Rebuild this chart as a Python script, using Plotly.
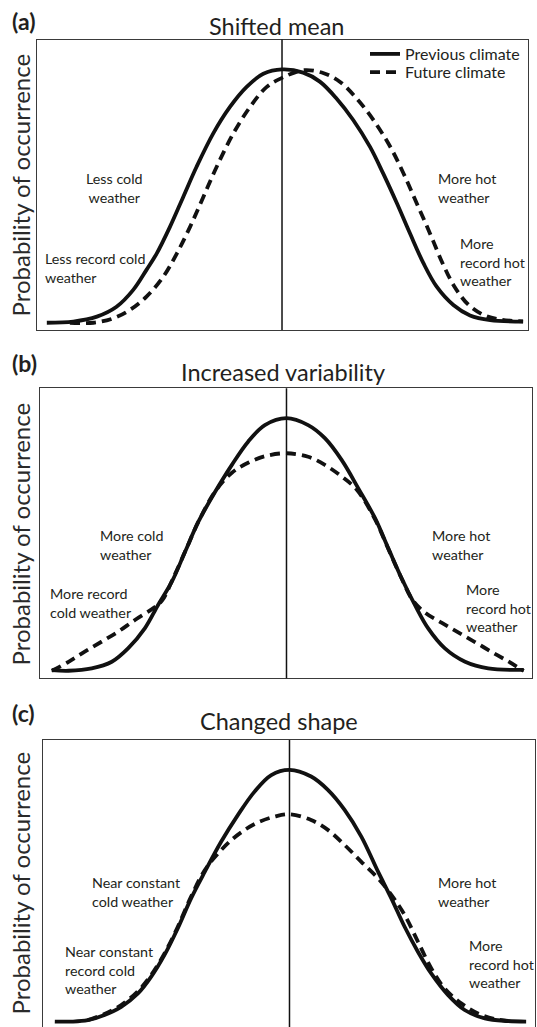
import plotly.graph_objects as go

W, H = 537, 1027

# ---------------- data (x: 0-100 across box, y: 0-100 probability scale) ----------------
A_PREV_X = [2.0, 7.4, 12.2, 16.2, 19.6, 22.3, 24.4, 27.1, 29.8, 32.5, 35.9, 39.3, 42.7, 46.1, 49.9,
            54.2, 57.6, 61.0, 64.4, 67.8, 70.5, 73.3, 76.0, 78.7, 81.4, 84.8, 88.2, 92.3, 99.0]
A_PREV_Y = [2.5, 2.9, 4.6, 8.0, 13.8, 20.7, 26.4, 35.6, 45.9, 56.2, 67.7, 76.8, 83.7, 88.2, 89.7,
            88.6, 85.5, 79.7, 72.3, 63.1, 53.9, 43.6, 33.1, 23.0, 14.9, 8.6, 5.0, 3.4, 2.9]
A_FUT_X = [6.7, 11.5, 15.5, 18.9, 22.3, 25.7, 28.5, 31.2, 33.9, 36.6, 40.0, 43.4, 46.8, 49.9, 54.2,
           58.4, 61.8, 65.2, 68.6, 72.0, 74.7, 77.4, 80.1, 82.6, 85.0, 87.8, 90.8, 94.3, 99.0]
A_FUT_Y = [2.5, 2.5, 4.0, 6.9, 11.5, 18.3, 26.4, 35.6, 45.9, 56.2, 67.7, 76.8, 83.7, 86.8, 89.4,
           88.4, 85.3, 79.5, 72.1, 62.9, 53.7, 43.4, 33.0, 23.0, 15.0, 8.8, 5.3, 3.6, 3.0]

B_PREV_X = [2.4, 5.8, 10.5, 14.6, 17.9, 21.3, 24.0, 26.8, 29.5, 32.2, 35.6, 39.0, 42.3, 45.7, 50.1,
            54.5, 57.9, 61.3, 64.7, 68.1, 70.8, 73.5, 76.2, 78.9, 82.3, 86.4, 91.1, 98.3]
B_PREV_Y = [2.8, 2.6, 3.4, 5.7, 10.3, 17.2, 25.3, 33.3, 43.7, 54.0, 64.3, 73.6, 81.6, 87.3, 89.7,
            87.3, 82.8, 75.3, 65.5, 55.2, 44.8, 34.5, 25.3, 17.2, 10.3, 5.7, 3.4, 2.9]
B_FUT_X = [2.4, 5.8, 9.1, 12.5, 15.9, 19.3, 22.7, 24.8, 27.0, 29.5, 32.2, 35.6, 39.0, 42.5, 46.0, 50.1,
           54.5, 57.9, 61.3, 64.4, 68.1, 70.8, 73.5, 75.8, 78.3, 81.6, 85.0, 88.4, 91.8, 95.2, 98.3]
B_FUT_Y = [2.6, 5.7, 9.2, 12.6, 16.1, 20.1, 23.8, 26.8, 34.3, 43.7, 54.0, 64.4, 70.9, 74.5, 76.7, 77.6,
           76.4, 73.6, 69.6, 65.0, 54.8, 44.6, 34.4, 26.8, 22.6, 19.2, 15.8, 12.5, 9.1, 5.8, 2.6]

C_PREV_X = [2.4, 5.8, 9.1, 12.5, 15.9, 19.3, 22.0, 24.7, 27.4, 30.1, 32.9, 36.2, 39.6, 43.0, 46.4, 50.1,
            54.5, 57.9, 61.3, 64.7, 68.1, 70.8, 73.5, 76.2, 78.9, 82.3, 85.7, 89.8, 94.5, 98.2]
C_PREV_Y = [2.9, 2.9, 3.4, 5.2, 8.0, 12.6, 18.4, 25.9, 35.1, 45.4, 54.6, 64.9, 74.1, 82.2, 87.9, 89.7,
            87.4, 82.8, 75.9, 66.7, 54.6, 45.4, 35.6, 27.0, 19.5, 12.1, 6.9, 4.0, 3.1, 2.9]
C_FUT_X = [9.1, 12.5, 15.9, 19.3, 22.0, 24.7, 27.4, 30.1, 32.9, 35.6, 38.3, 41.0, 43.7, 47.1, 50.1,
           54.5, 57.9, 61.3, 64.7, 68.1, 70.8, 73.5, 76.2, 78.9, 81.6, 85.0, 88.4, 91.8, 94.5]
C_FUT_Y = [3.4, 5.5, 8.6, 13.4, 19.0, 26.4, 35.6, 46.0, 55.2, 60.9, 65.5, 69.0, 71.6, 73.6, 74.4,
           72.4, 69.0, 63.8, 58.0, 52.3, 46.6, 39.7, 30.5, 21.3, 14.4, 9.2, 5.7, 3.8, 3.1]

MEAN_X = [49.9, 50.1, 50.1]  # previous-climate mean marked by the vertical line in each panel

PANEL_TITLES = ["Shifted mean", "Increased variability", "Changed shape"]
PANEL_LABELS = ["(a)", "(b)", "(c)"]
Y_TITLE = "Probability of occurrence"
SERIES_NAMES = ["Previous climate", "Future climate"]

NOTES = [
    ["Less cold<br>weather", "Less record cold<br>weather", "More hot<br>weather", "More<br>record hot<br>weather"],
    ["More cold<br>weather", "More record<br>cold weather", "More hot<br>weather", "More<br>record hot<br>weather"],
    ["Near constant<br>cold weather", "Near constant<br>record cold<br>weather", "More hot<br>weather",
     "More<br>record hot<br>weather"],
]

# ---------------- layout (pixel geometry) ----------------
FONT = "Lato"
TXT = "#231f20"
BOX = [  # left, right, top, bottom (px)
    (37, 528, 39.5, 330),
    (40, 532, 388.3, 678.3),
    (43, 535, 740, 1027),
]
YRANGES = [[0, 100], [0, 100], [(1030 - 1027) / 2.9, 100]]

def px(x):
    return x / W

def py(y):
    return 1 - y / H

fig = go.Figure()
curves = [(A_PREV_X, A_PREV_Y, A_FUT_X, A_FUT_Y),
          (B_PREV_X, B_PREV_Y, B_FUT_X, B_FUT_Y),
          (C_PREV_X, C_PREV_Y, C_FUT_X, C_FUT_Y)]

for i, (px_, py_, fx_, fy_) in enumerate(curves):
    xa = "x" if i == 0 else f"x{i+1}"
    ya = "y" if i == 0 else f"y{i+1}"
    fig.add_trace(go.Scatter(x=px_, y=py_, mode="lines", name=SERIES_NAMES[0],
                             line=dict(color="#111111", width=3.8, shape="spline", smoothing=1.0),
                             xaxis=xa, yaxis=ya, showlegend=(i == 0), legend="legend",
                             hoverinfo="skip"))
    fig.add_trace(go.Scatter(x=fx_, y=fy_, mode="lines", name=SERIES_NAMES[1],
                             line=dict(color="#111111", width=3.8, shape="spline", smoothing=1.0,
                                       dash="10px,6px"),
                             xaxis=xa, yaxis=ya, showlegend=(i == 0), legend="legend2",
                             hoverinfo="skip"))

layout = dict(
    width=W, height=H, margin=dict(l=0, r=0, t=0, b=0),
    paper_bgcolor="white", plot_bgcolor="white",
    font=dict(family=FONT, color=TXT),
    legend=dict(x=px(365), y=py(54), xanchor="left", yanchor="middle",
                font=dict(family=FONT, size=16, color=TXT), bgcolor="rgba(0,0,0,0)",
                borderwidth=0, itemwidth=30),
    legend2=dict(x=px(365), y=py(72.3), xanchor="left", yanchor="middle",
                 font=dict(family=FONT, size=16, color=TXT), bgcolor="rgba(0,0,0,0)",
                 borderwidth=0, itemwidth=30),
)

annotations = []
shapes = []
for i in range(3):
    l, r, t, b = BOX[i]
    sfx = "" if i == 0 else str(i + 1)
    xaxis = dict(domain=[px(l), px(r)], range=[0, 100], showgrid=False, zeroline=False,
                 showticklabels=False, ticks="", anchor="y" + sfx,
                 showline=True, linecolor="#3a3a3a", linewidth=1.3, mirror=(i < 2),
                 side="top" if i == 2 else "bottom")
    yaxis = dict(domain=[py(b), py(t)], range=YRANGES[i], showgrid=False, zeroline=False,
                 showticklabels=False, ticks="", anchor="x" + sfx,
                 showline=True, linecolor="#3a3a3a", linewidth=1.3, mirror=True)
    layout["xaxis" + sfx] = xaxis
    layout["yaxis" + sfx] = yaxis
    shapes.append(dict(type="line", xref="x" + sfx, yref=f"y{sfx} domain",
                       x0=MEAN_X[i], x1=MEAN_X[i], y0=0, y1=1,
                       line=dict(color="#111111", width=1.5)))

TITLE_POS = [(276.7, 26.3), (282.7, 372), (279, 721.3)]
LABEL_POS = [21.5, 363, 713.3]
YT_POS = [185, 534, 883]
for i in range(3):
    annotations.append(dict(text=PANEL_TITLES[i], x=px(TITLE_POS[i][0]), y=py(TITLE_POS[i][1]),
                            xref="paper", yref="paper", showarrow=False, xanchor="center",
                            yanchor="middle", font=dict(family=FONT, size=23.5, color=TXT)))
    annotations.append(dict(text="<b>" + PANEL_LABELS[i] + "</b>", x=px(10), y=py(LABEL_POS[i]),
                            xref="paper", yref="paper", showarrow=False, xanchor="left",
                            yanchor="middle", font=dict(family=FONT, size=23, color=TXT)))
    annotations.append(dict(text=Y_TITLE, x=px(19.5), y=py(YT_POS[i]), textangle=-90,
                            xref="paper", yref="paper", showarrow=False, xanchor="center",
                            yanchor="middle", font=dict(family=FONT, size=24, color="#2a2a2a")))

NOTE_POS = [
    [(114.7, 187.5, "center"), (43.3, 268.3, "left"), (435.7, 187.5, "left"), (457.7, 261.7, "left")],
    [(98.3, 545.2, "left"), (48.3, 602.5, "left"), (430, 545.2, "left"), (464.3, 608.3, "left")],
    [(89.7, 891.8, "left"), (63, 970, "left"), (436.3, 891.8, "left"), (467.3, 964.3, "left")],
]
for i in range(3):
    for txt, (x, y, al) in zip(NOTES[i], NOTE_POS[i]):
        annotations.append(dict(text=txt, x=px(x), y=py(y), xref="paper", yref="paper",
                                showarrow=False, xanchor=al, yanchor="middle", align=al,
                                font=dict(family=FONT, size=14.3, color=TXT)))

layout["annotations"] = annotations
layout["shapes"] = shapes
fig.update_layout(**layout)

fig.write_html("out.html", config={"displayModeBar": False},
               post_script="document.body.style.margin='0';")
